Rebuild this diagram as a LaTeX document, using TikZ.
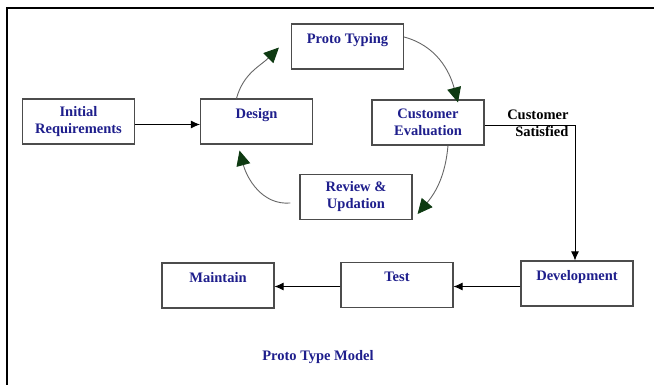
\documentclass[tikz,border=0pt]{standalone}
\usepackage{fontspec}
\setmainfont{Liberation Serif}
\usepackage{tikz}
\usetikzlibrary{calc,positioning,arrows.meta}
\definecolor{boxblue}{HTML}{1E1E8C}
\definecolor{tipgreen}{HTML}{0E3A12}
\tikzset{
    >={Latex[length=9pt,width=8pt]},
    line/.style={draw, line width=0.9pt, ->},
    font={\fontsize{14.5pt}{17pt}\selectfont\bfseries},
}

\begin{document}
\begin{tikzpicture}
[
    x=1pt, y=1pt,
    common/.style={shape=rectangle, draw=black!70, line width=1.1pt,
        minimum width=112pt, minimum height=45pt, inner sep=2pt,
        align=center, text=boxblue},
    cycleline/.style={draw=black!60, line width=0.9pt,
        -{Triangle[length=15pt,width=14pt,color=tipgreen]}},
]
\useasboundingbox (0,0) rectangle (654,385);
% frame
\draw[line width=1.6pt] (7,0) -- (7,377) -- (654,377);

% stages
\node (init)[common] at (78.5,263.5) {Initial\\Requirements};
\node (design)[common] at (256.5,263.5) {Design\\\mbox{}};
\node (proto)[common] at (347.5,338.5) {Proto Typing\\\mbox{}};
\node (eval)[common] at (428,262.5) {Customer\\Evaluation};
\node (review)[common] at (356,188) {Review \&\\Updation};
\node (dev)[common] at (577,101.5) {Development\\\mbox{}};
\node (test)[common] at (397,100) {Test\\\mbox{}};
\node (maintain)[common] at (218,99.5) {Maintain\\\mbox{}};

\node (sat)[anchor=east, align=right] at (572,261.5) {Customer\\Satisfied};
\node (title)[text=boxblue] at (318,28) {Proto Type Model};

% straight flow
\path[line] ([yshift=-3pt]init.east) -- ([yshift=-3pt]design.west);
\path[line] ([yshift=-2.5pt]eval.east) -| ([xshift=-2pt]dev.north);
\path[line] ([yshift=-3pt]dev.west) -- ([yshift=-3pt]dev.west -| test.east);
\path[line] ([yshift=-3pt]dev.west -| test.west) -- ([yshift=-3pt]dev.west -| maintain.east);

% prototype cycle
\coordinate (c1) at ([xshift=-12pt,yshift=-1pt]proto.west);
\coordinate (c2) at ([xshift=30pt,yshift=-3pt]eval.north);
\coordinate (c3) at ([xshift=5pt,yshift=6pt]review.south east);
\coordinate (c4) at ([xshift=-17pt,yshift=-6pt]design.south);
\path[cycleline] ([xshift=-20pt]design.north) to[out=75,in=225] (c1);
\path[cycleline] ([yshift=9.5pt]proto.east) to[out=-15,in=105] (c2);
\path[cycleline] ([xshift=20pt]eval.south) to[out=-95,in=50] (c3);
\path[cycleline] ([xshift=-9pt,yshift=-6pt]review.west) to[out=185,in=-75] (c4);
\end{tikzpicture}
\end{document}
